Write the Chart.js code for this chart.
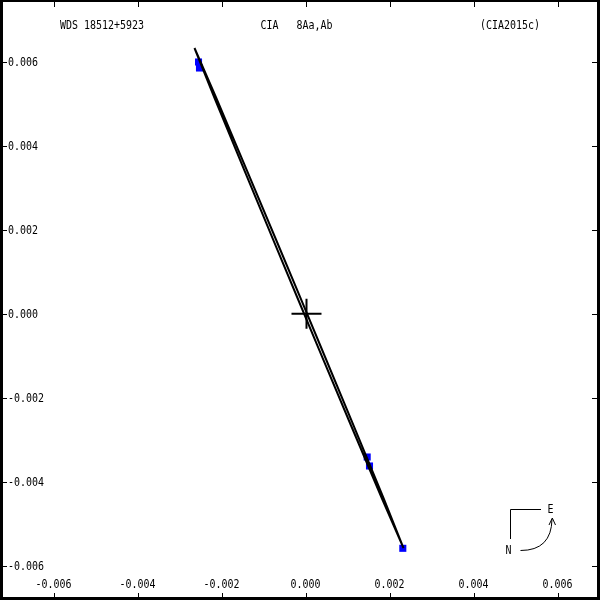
<!DOCTYPE html>
<html>
<head>
<meta charset="utf-8">
<script src="https://cdn.jsdelivr.net/npm/chart.js@4/dist/chart.umd.min.js"></script>
<style>
  body { margin: 0; background: #fff; }
  canvas { display: block; }
</style>
</head>
<body>
<canvas id="orbitChart" width="600" height="600"></canvas>
<script>
// Titles
const titleStar = 'WDS 18512+5923';
const titlePair = 'CIA   8Aa,Ab';
const titleRef = '(CIA2015c)';

// Orbit trace (arcsec): down one side, back up the other
const orbitX = [-0.002667, -0.002151, -0.001397, -0.000647, -0.000149, 0.000348, 0.001092, 0.001830, 0.002310,
                0.001794, 0.001040, 0.000290, -0.000209, -0.000705, -0.001449, -0.002187, -0.002667];
const orbitY = [0.006326, 0.005144, 0.003361, 0.001576, 0.000387, -0.000805, -0.002592, -0.004382, -0.005579,
                -0.004397, -0.002614, -0.000829, 0.000362, 0.001552, 0.003339, 0.005129, 0.006326];

// Observations
const obsX = [-0.002571, -0.002548, 0.001445, 0.001500, 0.002293];
const obsY = [0.005993, 0.005850, -0.003412, -0.003626, -0.005586];

// Axis ticks
const xTicks = [-0.006, -0.004, -0.002, 0, 0.002, 0.004, 0.006];
const xTickLabels = ['-0.006', '-0.004', '-0.002', '0.000', '0.002', '0.004', '0.006'];
const yTicks = [0.006, 0.004, 0.002, 0, -0.002, -0.004, -0.006];
const yTickLabels = ['0.006', '0.004', '0.002', '0.000', '-0.002', '-0.004', '-0.006'];

const FONT = '12px "DejaVu Sans Mono", "Liberation Mono", monospace';

function drawText(ctx, str, x, y, align) {
    ctx.save();
    ctx.translate(x, y);
    ctx.scale(0.83, 1);
    ctx.textAlign = align;
    ctx.fillText(str, 0, 0);
    ctx.restore();
}

const framePlugin = {
    id: 'frame',
    beforeDraw(chart) {
        const ctx = chart.ctx;
        ctx.save();
        ctx.fillStyle = '#fff';
        ctx.fillRect(0, 0, chart.width, chart.height);
        ctx.restore();
    },
    afterDraw(chart) {
        const ctx = chart.ctx;
        const xs = chart.scales.x;
        const ys = chart.scales.y;
        ctx.save();
        ctx.fillStyle = '#000';
        ctx.strokeStyle = '#000';

        // border
        ctx.fillRect(0, 0, 600, 2);
        ctx.fillRect(0, 0, 3, 600);
        ctx.fillRect(597, 0, 3, 600);
        ctx.fillRect(0, 597, 600, 3);

        // ticks
        ctx.lineWidth = 1;
        ctx.beginPath();
        xTicks.forEach(v => {
            const px = Math.round(xs.getPixelForValue(v)) + 0.5;
            ctx.moveTo(px, 2); ctx.lineTo(px, 7);
            ctx.moveTo(px, 597); ctx.lineTo(px, 593);
        });
        yTicks.forEach(v => {
            const py = Math.round(ys.getPixelForValue(v)) + 0.5;
            ctx.moveTo(3, py); ctx.lineTo(7, py);
            ctx.moveTo(597, py); ctx.lineTo(592, py);
        });
        ctx.stroke();

        // tick labels
        ctx.font = FONT;
        ctx.textBaseline = 'alphabetic';
        xTicks.forEach((v, i) => {
            drawText(ctx, xTickLabels[i], xs.getPixelForValue(v) - 1, 588, 'center');
        });
        yTicks.forEach((v, i) => {
            drawText(ctx, yTickLabels[i], 8, ys.getPixelForValue(v) + 4.5, 'left');
        });

        // titles
        drawText(ctx, titleStar, 60, 29, 'left');
        drawText(ctx, titlePair, 260.5, 29, 'left');
        drawText(ctx, titleRef, 480, 29, 'left');

        // compass
        ctx.beginPath();
        ctx.moveTo(510.5, 539); ctx.lineTo(510.5, 509.5); ctx.lineTo(541, 509.5);
        ctx.stroke();
        drawText(ctx, 'E', 550.5, 513, 'center');
        drawText(ctx, 'N', 508.5, 554, 'center');
        ctx.beginPath();
        ctx.moveTo(520.5, 550.5);
        ctx.quadraticCurveTo(551.5, 550.5, 552, 519);
        ctx.stroke();
        ctx.beginPath();
        ctx.moveTo(549, 525); ctx.lineTo(552.3, 518); ctx.lineTo(555.5, 525);
        ctx.stroke();
        ctx.restore();
    }
};

new Chart(document.getElementById('orbitChart'), {
    type: 'scatter',
    data: {
        datasets: [
            {
                label: 'orbit',
                data: orbitX.map((x, i) => ({ x: x, y: orbitY[i] })),
                showLine: true,
                borderColor: '#000',
                borderWidth: 2,
                pointRadius: 0,
                tension: 0
            },
            {
                label: 'observations',
                data: obsX.map((x, i) => ({ x: x, y: obsY[i] })),
                pointStyle: 'rect',
                pointRadius: 5,
                backgroundColor: '#0000ff',
                borderWidth: 0
            },
            {
                label: 'primary',
                data: [{ x: 0, y: 0 }],
                pointStyle: 'cross',
                pointRadius: 15,
                borderColor: '#000',
                borderWidth: 2
            }
        ]
    },
    options: {
        responsive: false,
        animation: false,
        layout: { padding: 0, autoPadding: false },
        plugins: {
            legend: { display: false },
            tooltip: { enabled: false }
        },
        scales: {
            x: { type: 'linear', display: false, min: -0.0072976, max: 0.0069881 },
            y: { type: 'linear', display: false, min: -0.0068167, max: 0.0074690 }
        }
    },
    plugins: [framePlugin]
});
</script>
</body>
</html>
